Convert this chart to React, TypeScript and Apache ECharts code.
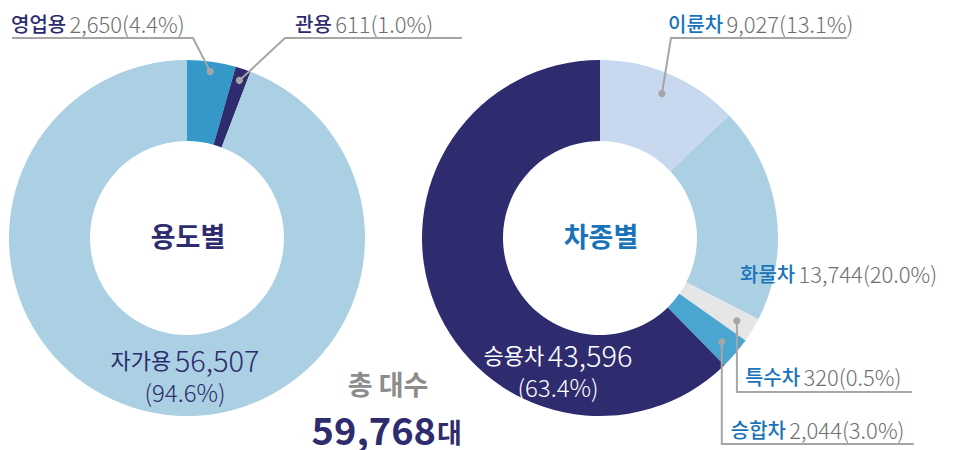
import React, { useEffect, useRef } from "react";
import * as echarts from "echarts";

// ---- data ----
const usageNames = ["영업용", "관용", "자가용"];
const usageValues = [2650, 611, 56507];
const usagePercents = [4.4, 1.0, 94.6];

const typeNames = ["이륜차", "화물차", "특수차", "승합차", "승용차"];
const typeValues = [9027, 13744, 320, 2044, 43596];
const typePercents = [13.1, 20.0, 0.5, 3.0, 63.4];

const usageTitle = "용도별";
const typeTitle = "차종별";
const totalTitle = "총 대수";
const totalUnit = "대";

// ---- styles / layout ----
const FONT = "'Noto Sans CJK KR', 'Noto Sans', sans-serif";
const NAVY = "#2e2c6e";
const BLUE_TXT = "#1a73b9";
const GRAY_TXT = "#6f6f6f";
const LINE = "#a6a6a6";
const usageColors = ["#3498c9", NAVY, "#abcfe3"];
const typeColors = ["#c8d9ef", "#abcfe3", "#e6e6e6", "#4ba5d1", NAVY];

const LEFT_C = [187, 238];
const RIGHT_C = [600, 238];
const R_OUT = 178;
const R_IN = 97;
const USAGE_MIN_ANGLE = 5;
const TYPE_MIN_ANGLE = 8;

const fmt = (v: number) => v.toLocaleString("en-US");
const pct = (p: number) => `(${p.toFixed(1)}%)`;

// mid angles (deg clockwise from 12 o'clock), same rule as echarts pie minAngle
function midAngles(values: number[], minAngle: number): number[] {
  const sum = values.reduce((a, b) => a + b, 0);
  const unit = 360 / sum;
  let rest = 360;
  let large = 0;
  const small = values.map((v) => {
    if (v * unit < minAngle) {
      rest -= minAngle;
      return true;
    }
    large += v;
    return false;
  });
  const unit2 = rest < 360 ? rest / large : unit;
  const mids: number[] = [];
  let cur = 0;
  values.forEach((v, i) => {
    const a = small[i] ? minAngle : v * unit2;
    mids.push(cur + a / 2);
    cur += a;
  });
  return mids;
}

function polar(c: number[], r: number, deg: number): number[] {
  const t = (deg * Math.PI) / 180;
  return [c[0] + r * Math.sin(t), c[1] - r * Math.cos(t)];
}

export default function App() {
  const ref = useRef<HTMLDivElement>(null);

  useEffect(() => {
    if (!ref.current) return;
    const chart = echarts.init(ref.current, null, { renderer: "svg" });

    const uMid = midAngles(usageValues, USAGE_MIN_ANGLE);
    const tMid = midAngles(typeValues, TYPE_MIN_ANGLE);

    // dots
    const dU0 = polar(LEFT_C, 168, uMid[0]);
    const dU1 = polar(LEFT_C, 166, uMid[1]);
    const dT0 = polar(RIGHT_C, 157, tMid[0]);
    const dT2 = polar(RIGHT_C, 160, tMid[2]);
    const dT3 = polar(RIGHT_C, 160, tMid[3]);

    const leaders = [
      [dU0, [193, 38], [12, 38]],
      [dU1, [285, 38], [462, 38]],
      [dT0, [671, 38], [847, 38]],
      [dT2, [dT2[0], 392], [912, 392]],
      [dT3, [dT3[0], 444], [dT3[0] + 192, 444]],
    ];

    const usageLabelPos: any[] = [
      { x: 11, y: 23, align: "left", verticalAlign: "middle" },
      { x: 295, y: 23, align: "left", verticalAlign: "middle" },
      { x: 185, y: 375, align: "center", verticalAlign: "middle" },
    ];
    const typeLabelPos: any[] = [
      { x: 668, y: 23, align: "left", verticalAlign: "middle" },
      { x: 740, y: 273, align: "left", verticalAlign: "middle" },
      { x: dT2[0] + 8, y: 376, align: "left", verticalAlign: "middle" },
      { x: dT3[0] + 9, y: 429, align: "left", verticalAlign: "middle" },
      { x: 558, y: 370, align: "center", verticalAlign: "middle" },
    ];

    const outerRich = (nameColor: string) => ({
      n: { fontFamily: FONT, fontSize: 20, color: nameColor, fontWeight: 500 },
      v: { fontFamily: FONT, fontSize: 22, color: GRAY_TXT, fontWeight: 300 },
    });

    const insideRich = (color: string) => ({
      n: { fontFamily: FONT, fontSize: 22, color, lineHeight: 32, fontWeight: 400 },
      v: { fontFamily: FONT, fontSize: 29, color, lineHeight: 32, fontWeight: 300 },
      p: { fontFamily: FONT, fontSize: 24, color, lineHeight: 32, fontWeight: 300 },
    });

    const usageData = usageNames.map((name, i) => {
      const inside = i === 2;
      return {
        name,
        value: usageValues[i],
        itemStyle: { color: usageColors[i] },
        label: inside
          ? {
              formatter: `{n|${name}} {v|${fmt(usageValues[i])}}\n{p|${pct(usagePercents[i])}}`,
              rich: insideRich(NAVY),
              align: "center",
            }
          : {
              formatter: `{n|${name}} {v|${fmt(usageValues[i])}${pct(usagePercents[i])}}`,
              rich: outerRich(NAVY),
            },
      };
    });

    const typeData = typeNames.map((name, i) => {
      const inside = i === 4;
      return {
        name,
        value: typeValues[i],
        itemStyle: { color: typeColors[i] },
        label: inside
          ? {
              formatter: `{n|${name}} {v|${fmt(typeValues[i])}}\n{p|${pct(typePercents[i])}}`,
              rich: insideRich("#ffffff"),
              align: "center",
            }
          : {
              formatter: `{n|${name}} {v|${fmt(typeValues[i])}${pct(typePercents[i])}}`,
              rich: outerRich(BLUE_TXT),
            },
      };
    });

    const total = usageValues.reduce((a, b) => a + b, 0);

    const graphic: any[] = [];
    leaders.forEach((pts) => {
      graphic.push({
        type: "polyline",
        z: 10,
        shape: { points: pts },
        style: { stroke: LINE, lineWidth: 2, fill: null },
        silent: true,
      });
      graphic.push({
        type: "circle",
        z: 11,
        shape: { cx: pts[0][0], cy: pts[0][1], r: 3.6 },
        style: { fill: LINE },
        silent: true,
      });
    });
    graphic.push(
      {
        type: "text",
        z: 10,
        x: LEFT_C[0] + 1,
        y: 235,
        style: {
          text: usageTitle,
          fontFamily: FONT,
          fontSize: 27,
          fontWeight: "bold",
          fill: NAVY,
          align: "center",
          verticalAlign: "middle",
        },
      },
      {
        type: "text",
        z: 10,
        x: RIGHT_C[0] + 1,
        y: 235,
        style: {
          text: typeTitle,
          fontFamily: FONT,
          fontSize: 27,
          fontWeight: "bold",
          fill: BLUE_TXT,
          align: "center",
          verticalAlign: "middle",
        },
      },
      {
        type: "text",
        z: 10,
        x: 388,
        y: 383,
        style: {
          text: totalTitle,
          fontFamily: FONT,
          fontSize: 27,
          fontWeight: "bold",
          fill: "#8c8c8c",
          align: "center",
          verticalAlign: "middle",
        },
      },
      {
        type: "text",
        z: 10,
        x: 436,
        y: 428,
        style: {
          text: fmt(total),
          fontFamily: FONT,
          fontSize: 38,
          fontWeight: "bold",
          fill: NAVY,
          align: "right",
          verticalAlign: "middle",
        },
      },
      {
        type: "text",
        z: 10,
        x: 437,
        y: 431,
        style: {
          text: totalUnit,
          fontFamily: FONT,
          fontSize: 27,
          fontWeight: "bold",
          fill: NAVY,
          align: "left",
          verticalAlign: "middle",
        },
      }
    );

    chart.setOption({
      animation: false,
      backgroundColor: "#ffffff",
      series: [
        {
          type: "pie",
          center: LEFT_C,
          radius: [R_IN, R_OUT],
          startAngle: 90,
          clockwise: true,
          minAngle: USAGE_MIN_ANGLE,
          avoidLabelOverlap: false,
          silent: true,
          emphasis: { disabled: true },
          label: { show: true, position: "outside" },
          labelLine: { show: false },
          labelLayout: (p: any) => usageLabelPos[p.dataIndex],
          data: usageData,
        },
        {
          type: "pie",
          center: RIGHT_C,
          radius: [R_IN, R_OUT],
          startAngle: 90,
          clockwise: true,
          minAngle: TYPE_MIN_ANGLE,
          avoidLabelOverlap: false,
          silent: true,
          emphasis: { disabled: true },
          label: { show: true, position: "outside" },
          labelLine: { show: false },
          labelLayout: (p: any) => typeLabelPos[p.dataIndex],
          data: typeData,
        },
      ],
      graphic,
    });

    return () => chart.dispose();
  }, []);

  return (
    <div
      ref={ref}
      style={{ position: "fixed", left: 0, top: 0, width: 958, height: 450 }}
    />
  );
}
